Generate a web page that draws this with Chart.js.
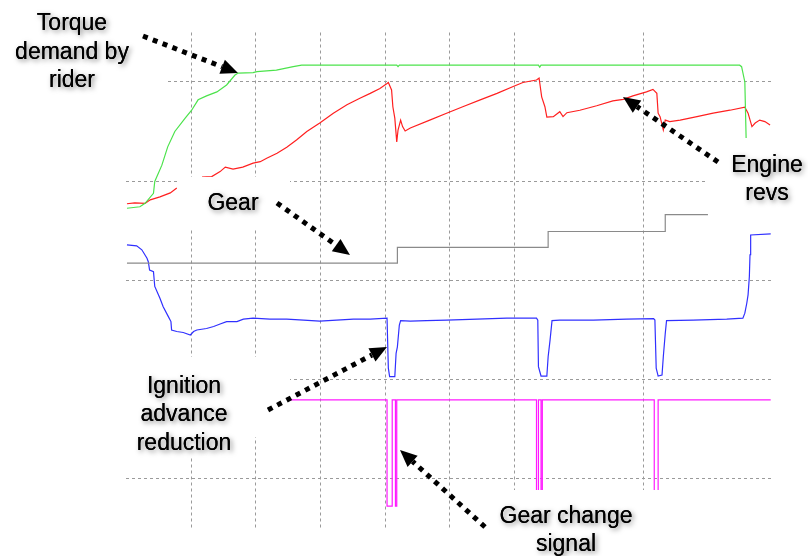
<!DOCTYPE html>
<html>
<head>
<meta charset="utf-8">
<script src="https://cdn.jsdelivr.net/npm/chart.js@4/dist/chart.umd.min.js"></script>
<style>
  body { margin: 0; background: #fff; }
  #wrap { position: relative; width: 808px; height: 556px; }
</style>
</head>
<body>
<div id="wrap"><canvas id="chart"></canvas></div>
<script>
// time in grid divisions, signal level in grid divisions (logger screen, no scale labels)
const xGridAt = [1, 2, 3, 4, 5, 6, 8];
const yGridAt = [1, 3, 5, 7, 9];

const torqueTime = [0.01, 0.21, 0.29, 0.42, 0.44, 0.55, 0.64, 0.75, 0.91, 1.01, 1.11, 1.24, 1.40, 1.55, 1.68, 1.73, 1.96, 2.02, 2.32, 2.58, 2.71, 4.18, 4.20, 4.22, 6.37, 6.39, 6.41, 9.48, 9.51, 9.56, 9.58, 9.59, 9.95];
const torqueValue = [6.45, 6.48, 6.55, 6.75, 6.99, 7.32, 7.69, 8.00, 8.27, 8.43, 8.64, 8.72, 8.80, 8.94, 9.14, 9.18, 9.19, 9.21, 9.24, 9.31, 9.34, 9.34, 9.31, 9.34, 9.34, 9.30, 9.34, 9.34, 9.31, 9.00, 7.87, 6.89, 6.89];

const revsTime = [0.01, 0.13, 0.29, 0.37, 0.52, 0.68, 0.78, 0.90,
  1.17, 1.32, 1.45, 1.53, 1.65, 1.80, 1.96, 2.07, 2.17, 2.33,
  2.48, 2.63, 2.79, 2.99, 3.20, 3.41, 3.61, 3.77, 3.92, 4.03,
  4.05, 4.10, 4.12, 4.15, 4.18, 4.20, 4.24, 4.27, 4.31, 4.39,
  4.69, 4.95, 5.20, 5.47, 5.73, 5.98, 6.13, 6.34, 6.38, 6.42,
  6.47, 6.50, 6.60, 6.70, 6.75, 6.81, 7.01, 7.27, 7.52, 7.68,
  7.83, 8.04, 8.14, 8.20, 8.22, 8.25, 8.30, 8.33, 8.40, 8.56,
  8.82, 9.07, 9.33, 9.56, 9.61, 9.67, 9.72, 9.79, 9.87, 9.95];
const revsValue = [6.54, 6.56, 6.55, 6.62, 6.68, 6.76, 6.86, null,
  7.08, 7.09, 7.19, 7.28, 7.24, 7.28, 7.36, 7.39, 7.46, 7.56,
  7.68, 7.83, 8.00, 8.17, 8.37, 8.54, 8.67, 8.77, 8.87, 8.97,
  8.99, 8.84, 8.50, 8.27, 7.79, 8.03, 8.23, 8.10, 8.01, 8.07,
  8.23, 8.37, 8.50, 8.64, 8.77, 8.91, 8.99, 9.04, 9.08, 8.70,
  8.50, 8.29, 8.30, 8.40, 8.30, 8.38, 8.43, 8.52, 8.62, 8.65,
  8.72, 8.80, 8.85, 8.77, 8.37, 8.30, 8.03, 8.23, 8.20, 8.23,
  8.30, 8.37, 8.43, 8.49, 8.37, 8.10, 8.17, 8.23, 8.20, 8.13];

const gearTime = [0.01, 4.19, 4.19, 6.52, 6.52, 8.33, 8.33, 8.99];
const gearValue = [5.34, 5.34, 5.66, 5.66, 5.98, 5.98, 6.32, 6.32];

const ignTime = [0.01, 0.16, 0.24, 0.32, 0.34, 0.36, 0.42, 0.44, 0.52, 0.57,
  0.65, 0.69, 0.70, 0.78, 0.88, 0.99, 1.04, 1.09, 1.24, 1.35,
  1.45, 1.55, 1.71, 1.81, 1.96, 2.22, 2.48, 2.74, 2.99, 3.25,
  3.51, 3.77, 4.03, 4.04,
  4.05, 4.07, 4.15, 4.17, 4.19, 4.22, 4.24, 4.39, 4.64, 4.95,
  5.42, 5.88, 6.34, 6.36, 6.37, 6.41, 6.50, 6.52, 6.55, 6.58,
  6.70, 7.22, 7.73, 8.15, 8.17, 8.19, 8.22, 8.28, 8.30, 8.33,
  8.35, 8.76, 9.28, 9.53, 9.56, 9.59, 9.61, 9.63, 9.64, 9.65, 9.96];
const ignValue = [5.71, 5.69, 5.61, 5.44, 5.37, 5.20, 5.17, 4.87, 4.63, 4.46,
  4.26, 4.16, 3.99, 3.96, 3.94, 3.89, 3.96, 3.99, 4.02, 4.06,
  4.11, 4.16, 4.16, 4.21, 4.23, 4.21, 4.21, 4.19, 4.17, 4.19,
  4.21, 4.21, 4.23, 4.23,
  3.22, 3.05, 3.05, 3.52, 3.65, 4.09, 4.18, 4.17, 4.18, 4.19,
  4.21, 4.23, 4.23, 4.19, 3.25, 3.06, 3.06, 3.45, 3.79, 4.18,
  4.19, 4.19, 4.21, 4.22, 4.19, 3.22, 3.06, 3.08, 3.45, 3.92,
  4.18, 4.19, 4.21, 4.23, 4.33, 4.53, 4.70, 5.07, 5.51, 5.91, 5.93];

const shiftTime = [2.53, 4.03, 4.03, 4.11, 4.11, 4.16, 4.16, 4.18, 4.18, 6.34, 6.34, 6.37, 6.37, 6.41, 6.41, 6.43, 6.43, 8.16, 8.16, 8.22, 8.22, 9.96];
const shiftValue = [2.58, 2.58, 0.43, 0.43, 2.58, 2.58, 0.43, 0.43, 2.58, 2.58, 0.43, 0.43, 2.58, 2.58, 0.43, 0.43, 2.58, 2.58, 0.43, 0.43, 2.58, 2.58];

// callout layout (canvas pixels)
const coverBoxes = [[0, 0, 167, 95], [177, 177, 113, 51], [708, 138, 100, 79], [0, 357, 290, 80], [0, 437, 230, 19], [470, 490, 200, 66]];
const labels = [
  { x: 72, ys: [29.5, 58.5, 87], lines: ['Torque', 'demand by', 'rider'] },
  { x: 767, ys: [172, 200], lines: ['Engine', 'revs'] },
  { x: 233, ys: [210], lines: ['Gear'] },
  { x: 184, ys: [393, 421, 450], lines: ['Ignition', 'advance', 'reduction'] },
  { x: 566, ys: [523, 551], lines: ['Gear change', 'signal'] }
];
const arrows = [[143, 36, 238, 73], [718, 162, 623, 97], [277, 203, 350, 255], [268, 410, 387, 347], [485, 527, 400, 450]];

function zip(t, v) {
  return t.map((x, i) => ({ x: x, y: v[i] }));
}

function drawArrow(ctx, x0, y0, x1, y1) {
  const ang = Math.atan2(y1 - y0, x1 - x0);
  const head = 17, half = 7.5;
  const bx = x1 - head * Math.cos(ang), by = y1 - head * Math.sin(ang);
  ctx.save();
  ctx.strokeStyle = '#000';
  ctx.fillStyle = '#000';
  ctx.lineWidth = 5;
  ctx.setLineDash([5, 5.5]);
  ctx.beginPath();
  ctx.moveTo(x0, y0);
  ctx.lineTo(bx, by);
  ctx.stroke();
  ctx.setLineDash([]);
  ctx.beginPath();
  ctx.moveTo(x1, y1);
  ctx.lineTo(bx + half * Math.sin(ang), by - half * Math.cos(ang));
  ctx.lineTo(bx - half * Math.sin(ang), by + half * Math.cos(ang));
  ctx.closePath();
  ctx.fill();
  ctx.restore();
}

const calloutPlugin = {
  id: 'callouts',
  afterDatasetsDraw(chart) {
    const ctx = chart.ctx;
    ctx.save();
    ctx.fillStyle = '#fff';
    coverBoxes.forEach(b => ctx.fillRect(b[0], b[1], b[2], b[3]));
    arrows.forEach(a => drawArrow(ctx, a[0], a[1], a[2], a[3]));
    ctx.font = '23px "Liberation Sans", Arial, sans-serif';
    ctx.textAlign = 'center';
    ctx.textBaseline = 'alphabetic';
    ctx.fillStyle = '#000';
    ctx.shadowColor = 'rgba(0,0,0,0.5)';
    ctx.shadowBlur = 5;
    ctx.shadowOffsetX = 2;
    ctx.shadowOffsetY = 2;
    labels.forEach(l => {
      l.lines.forEach((txt, i) => ctx.fillText(txt, l.x, l.ys[i]));
    });
    // second pass without shadow keeps the glyphs crisp
    ctx.shadowColor = 'rgba(0,0,0,0)';
    labels.forEach(l => {
      l.lines.forEach((txt, i) => ctx.fillText(txt, l.x, l.ys[i]));
    });
    ctx.restore();
  }
};

function trace(data, color) {
  return {
    data: data,
    borderColor: color,
    borderWidth: 1.2,
    pointRadius: 0,
    tension: 0,
    fill: false,
    spanGaps: false
  };
}

new Chart(document.getElementById('chart'), {
  type: 'line',
  data: {
    datasets: [
      trace(zip(gearTime, gearValue), '#8a8a8a'),
      trace(zip(torqueTime, torqueValue), '#4ce34c'),
      trace(zip(revsTime, revsValue), '#ff2020'),
      trace(zip(ignTime, ignValue), '#3030ff'),
      trace(zip(shiftTime, shiftValue), '#ff1aff')
    ]
  },
  options: {
    responsive: true,
    maintainAspectRatio: false,
    animation: false,
    layout: { padding: { left: 126.3, right: 34.7, top: 32.5, bottom: 28.5 } },
    plugins: { legend: { display: false }, tooltip: { enabled: false } },
    scales: {
      x: {
        type: 'linear',
        min: 0,
        max: 10,
        ticks: { display: false, stepSize: 1 },
        border: { display: false, dash: [3, 3] },
        grid: {
          drawTicks: false,
          lineWidth: 1,
          color: c => xGridAt.includes(c.tick.value) ? '#9a9a9a' : 'rgba(0,0,0,0)'
        }
      },
      y: {
        type: 'linear',
        min: 0,
        max: 10,
        ticks: { display: false, stepSize: 1 },
        border: { display: false, dash: [3, 3] },
        grid: {
          drawTicks: false,
          lineWidth: 1,
          color: c => yGridAt.includes(c.tick.value) ? '#9a9a9a' : 'rgba(0,0,0,0)'
        }
      }
    }
  },
  plugins: [calloutPlugin]
});
</script>
</body>
</html>
